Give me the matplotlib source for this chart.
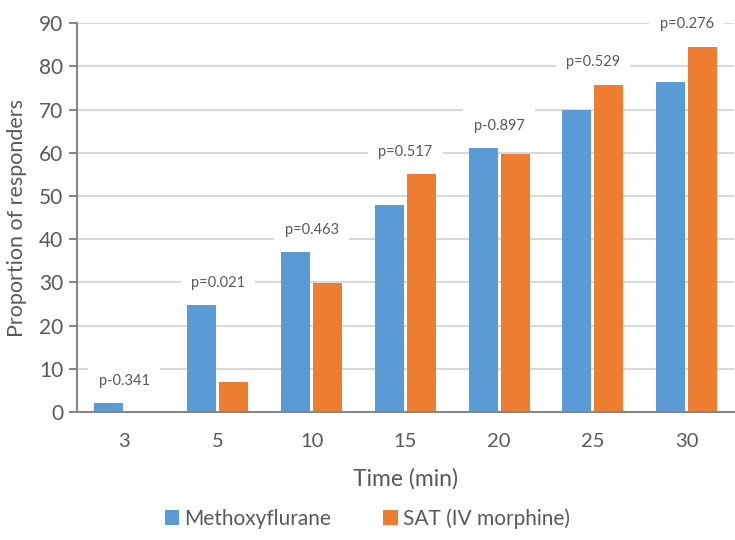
import matplotlib.pyplot as plt
import numpy as np

times = ['3', '5', '10', '15', '20', '25', '30']
methoxy = [2.1, 24.8, 37.0, 48.0, 61.1, 69.8, 76.4]
sat = [0.0, 7.0, 29.8, 55.0, 59.7, 75.8, 84.6]
p_labels = ['p-0.341', 'p=0.021', 'p=0.463', 'p=0.517', 'p-0.897', 'p=0.529', 'p=0.276']

plt.rcParams['font.family'] = ['Lato', 'DejaVu Sans']
txt = '#595959'

fig = plt.figure(figsize=(7.35, 5.4), dpi=100)
ax = fig.add_axes([0.105, 0.237, 0.893, 0.72])

x = np.arange(len(times))
w = 0.31
ax.bar(x - 0.17, methoxy, w, color='#5B9BD5', label='Methoxyflurane', zorder=2)
ax.bar(x + 0.17, sat, w, color='#ED7D31', label='SAT (IV morphine)', zorder=2)

# p-values above each group, white box cuts the gridline
for i, lab in enumerate(p_labels):
    top = max(methoxy[i], sat[i])
    ax.annotate(lab, (x[i], top), xytext=(0, 16), textcoords='offset points',
                ha='center', va='center', fontsize=10.5, color=txt, zorder=3,
                bbox=dict(boxstyle='square,pad=0.7', fc='white', ec='none'))

ax.set_xlim(-0.5, len(times) - 0.5)
ax.set_ylim(0, 90)
ax.set_yticks(range(0, 91, 10))
ax.set_xticks(x)
ax.set_xticklabels(times)
ax.yaxis.grid(True, color='#d9d9d9', lw=1.5, zorder=0)
ax.set_axisbelow(True)
for s in ['top', 'right']:
    ax.spines[s].set_visible(False)
for s in ['left', 'bottom']:
    ax.spines[s].set_color('#868686')
    ax.spines[s].set_linewidth(1.5)
ax.tick_params(axis='y', colors='#868686', labelcolor=txt, labelsize=15, length=6, width=1.5, pad=4)
ax.tick_params(axis='x', length=0, labelcolor=txt, labelsize=14.5, pad=15)
ax.set_ylabel('Proportion of responders', fontsize=15.5, color=txt, labelpad=9)
ax.set_xlabel('Time (min)', fontsize=16.5, color=txt, labelpad=13)

fig.legend(loc='center', bbox_to_anchor=(0.5, 0.04), ncol=2, frameon=False,
           fontsize=15, labelcolor=txt, handlelength=0.7, handleheight=0.7,
           handletextpad=0.25, columnspacing=2.5)

fig.savefig('out.png', dpi=100)
